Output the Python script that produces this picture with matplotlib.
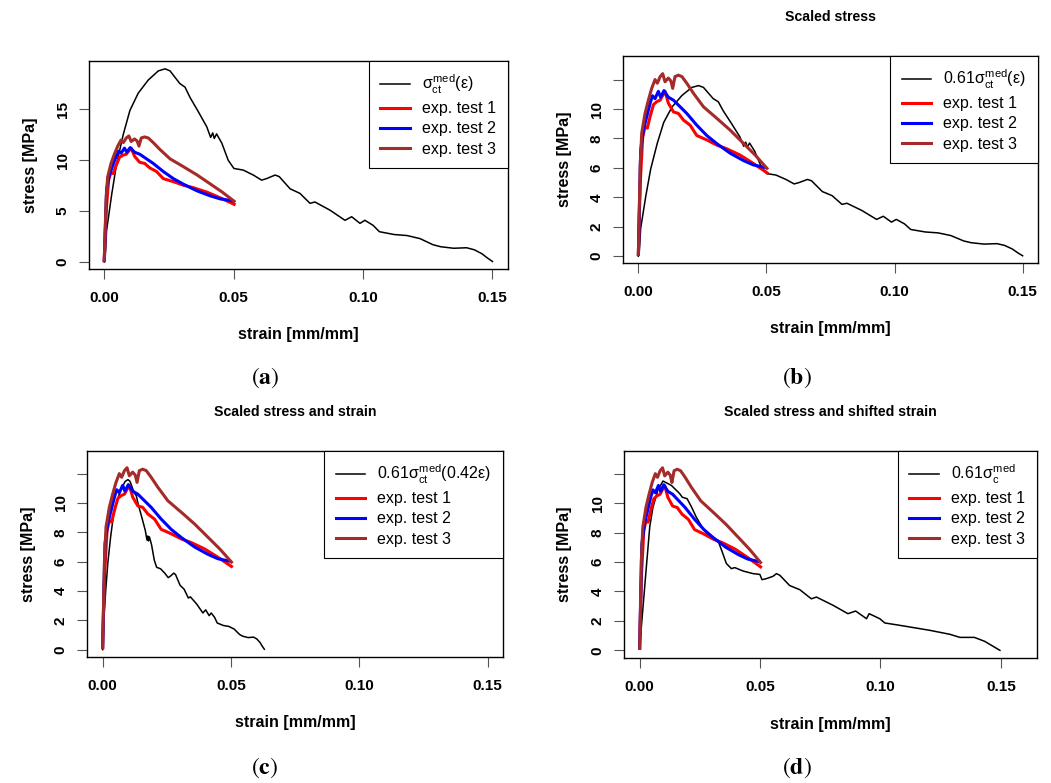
import matplotlib
matplotlib.use('Agg')
import matplotlib.pyplot as plt
import numpy as np
from matplotlib.transforms import offset_copy

plt.rcParams['font.family'] = ['Liberation Sans', 'DejaVu Sans']
plt.rcParams['mathtext.fontset'] = 'custom'
plt.rcParams['mathtext.rm'] = 'Liberation Sans'
plt.rcParams['mathtext.it'] = 'Liberation Sans'
plt.rcParams['mathtext.bf'] = 'Liberation Sans:bold'

# median tensile curve sigma_ct^med(eps)
strain_med = [0.0, 0.0003, 0.0009, 0.0029, 0.0048, 0.0074, 0.0099, 0.0131, 0.0170, 0.0209,
              0.0235, 0.0254, 0.0292, 0.0312, 0.0331, 0.0363, 0.0396, 0.0411, 0.0419, 0.0425,
              0.0434, 0.0454, 0.0479, 0.0501, 0.0537, 0.0576, 0.0608, 0.0627, 0.0660, 0.0676,
              0.0718, 0.0756, 0.0795, 0.0814, 0.0872, 0.0930, 0.0956, 0.0988, 0.1007, 0.1039,
              0.1063, 0.1120, 0.1170, 0.1220, 0.1270, 0.1300, 0.1350, 0.1400, 0.1430, 0.1460,
              0.1480, 0.1500]
stress_med = [0.0, 0.2, 3.1, 6.7, 9.7, 12.6, 14.9, 16.6, 17.9, 18.8,
              19.0, 18.8, 17.55, 17.2, 16.2, 14.8, 13.3, 12.25, 12.7, 12.15,
              12.6, 11.7, 10.0, 9.2, 9.04, 8.55, 8.05, 8.2, 8.55, 8.4,
              7.2, 6.75, 5.77, 5.9, 5.1, 4.1, 4.45, 3.8, 4.1, 3.6,
              2.98, 2.7, 2.6, 2.3, 1.7, 1.5, 1.35, 1.4, 1.2, 0.8,
              0.4, 0.05]

# experimental tests
strain_t1 = [0.0, 0.0007, 0.0017, 0.0026, 0.0035, 0.0046, 0.0059, 0.0072, 0.0085, 0.0091,
             0.0104, 0.0117, 0.0137, 0.0156, 0.0176, 0.0202, 0.0228, 0.0267, 0.0306, 0.0345,
             0.0397, 0.0449, 0.0502]
stress_t1 = [0.14, 4.9, 8.1, 8.8, 8.7, 9.5, 10.3, 10.5, 10.6, 10.8,
             11.2, 10.4, 9.8, 9.7, 9.25, 8.9, 8.2, 7.9, 7.55, 7.3,
             6.87, 6.3, 5.67]

strain_t2 = [0.0, 0.0009, 0.0020, 0.0033, 0.0046, 0.0055, 0.0065, 0.0078, 0.0087, 0.0100,
             0.0117, 0.0137, 0.0163, 0.0189, 0.0228, 0.0267, 0.0306, 0.0358, 0.0410, 0.0449,
             0.0495]
stress_t2 = [0.14, 7.2, 8.6, 9.5, 10.4, 10.9, 10.7, 11.2, 10.8, 11.25,
             10.8, 10.6, 10.15, 9.7, 8.9, 8.2, 7.65, 7.0, 6.5, 6.2,
             6.03]

strain_t3 = [0.0, 0.0007, 0.0013, 0.0026, 0.0039, 0.0052, 0.0065, 0.0074, 0.0085, 0.0095,
             0.0104, 0.0117, 0.0127, 0.0134, 0.0143, 0.0156, 0.0170, 0.0189, 0.0215, 0.0254,
             0.0306, 0.0358, 0.0410, 0.0456, 0.0502]
stress_t3 = [0.14, 6.1, 8.35, 9.7, 10.6, 11.4, 12.0, 11.75, 12.2, 12.4,
             11.85, 12.1, 11.9, 11.4, 12.2, 12.3, 12.2, 11.75, 11.07, 10.15,
             9.37, 8.57, 7.67, 6.87, 5.97]

# scaled stress with shifted strain (panel d)
strain_shift = [0.0, 0.0028, 0.0042, 0.0055, 0.0076, 0.0097, 0.0132, 0.0166, 0.0177, 0.0197,
                0.0215, 0.0235, 0.0263, 0.0291, 0.0312, 0.0325, 0.0343, 0.0360, 0.0381, 0.0395,
                0.0429, 0.0471, 0.0499, 0.0508, 0.0526, 0.0554, 0.0568, 0.0582, 0.0623, 0.0665,
                0.0713, 0.0734, 0.0803, 0.0865, 0.0897, 0.0942, 0.0953, 0.0997, 0.1018, 0.1080,
                0.1205, 0.1288, 0.1330, 0.1390, 0.1433, 0.1496]
stress_shift = [0.2, 5.7, 8.4, 9.7, 10.9, 11.5, 11.2, 10.65, 10.4, 10.3,
                9.75, 9.05, 8.27, 7.7, 7.6, 7.47, 6.68, 5.9, 5.55, 5.62,
                5.39, 5.21, 5.16, 4.8, 4.87, 5.03, 5.21, 5.1, 4.4, 4.12,
                3.5, 3.62, 3.06, 2.49, 2.67, 2.15, 2.49, 2.15, 1.86, 1.7,
                1.36, 1.09, 0.88, 0.88, 0.61, 0.0]

stress_factor = 0.61
strain_factor = 0.42

xtick_vals = [0.0, 0.05, 0.10, 0.15]
xtick_labels = ['0.00', '0.05', '0.10', '0.15']

W, H = 1051, 783
fig = plt.figure(figsize=(W / 100, H / 100), dpi=100)


def draw_panel(box, xlim, ylim, yticks, ylabels, bx, by, label, title, caption, cap_xy):
    l, t, r, b = box
    ax = fig.add_axes([l / W, 1 - b / H, (r - l) / W, (b - t) / H])
    ax.plot(bx, by, color='black', lw=1.1, label=label)
    ax.plot(strain_t1, stress_t1, color='red', lw=2.2, label='exp. test 1')
    ax.plot(strain_t2, stress_t2, color='blue', lw=2.2, label='exp. test 2')
    ax.plot(strain_t3, stress_t3, color='#A52A2A', lw=2.2, label='exp. test 3')
    ax.set_xlim(xlim)
    ax.set_ylim(ylim)
    ax.set_xticks(xtick_vals)
    ax.set_xticklabels(xtick_labels, fontweight='bold', fontsize=11)
    ax.set_yticks(yticks)
    ax.set_yticklabels(ylabels, fontweight='bold', fontsize=11, rotation=90, va='center')
    ax.tick_params(direction='out', length=7, width=0.8, color='#555555')
    ax.tick_params(axis='x', pad=9)
    ax.tick_params(axis='y', pad=7)
    for s in ax.spines.values():
        s.set_linewidth(1.0)
    ax.set_xlabel('strain [mm/mm]', fontweight='bold', fontsize=11.5)
    ax.set_ylabel('stress [MPa]', fontweight='bold', fontsize=11.5)
    ax.xaxis.set_label_coords(0.5, 0, transform=offset_copy(ax.transAxes, fig=fig, y=-66, units='dots'))
    ax.xaxis.label.set_va('center')
    ax.yaxis.set_label_coords(0, 0.5, transform=offset_copy(ax.transAxes, fig=fig, x=-59, units='dots'))
    ax.yaxis.label.set_va('center')
    if title:
        ax.text(0.5, 1, title, transform=offset_copy(ax.transAxes, fig=fig, y=39, units='dots'),
                ha='center', va='center', fontweight='bold', fontsize=10.2)
    leg = ax.legend(loc='upper right', borderaxespad=0, fancybox=False, edgecolor='black',
                    framealpha=1, fontsize=11.5, handlelength=1.85, handletextpad=0.75,
                    labelspacing=0.32, borderpad=0.75)
    leg.get_frame().set_linewidth(0.8)
    fig.text(cap_xy[0] / W, 1 - cap_xy[1] / H, r'$(\mathbf{' + caption + '})$', math_fontfamily='stix',
             fontsize=17, ha='center', va='center')
    return ax


ticks_a = [0, 5, 10, 15]
ticks_b = [0, 2, 4, 6, 8, 10, 12]
labels_b = ['0', '2', '4', '6', '8', '10', '']

sm = np.array(strain_med)
st = np.array(stress_med)

draw_panel((89, 61, 508, 269), (-0.0059, 0.156), (-0.69, 19.77), ticks_a, [str(v) for v in ticks_a],
           sm, st, r'$\sigma_{\mathrm{ct}}^{\mathrm{med}}(\varepsilon)$', None, 'a', (265, 378))
draw_panel((623, 56, 1038, 263), (-0.006, 0.156), (-0.46, 13.6), ticks_b, labels_b,
           sm, stress_factor * st, r'$0.61\sigma_{\mathrm{ct}}^{\mathrm{med}}(\varepsilon)$',
           'Scaled stress', 'b', (797, 378))
draw_panel((87, 451, 503, 657), (-0.0061, 0.156), (-0.5, 13.54), ticks_b, labels_b,
           strain_factor * sm, stress_factor * st,
           r'$0.61\sigma_{\mathrm{ct}}^{\mathrm{med}}(0.42\varepsilon)$',
           'Scaled stress and strain', 'c', (265, 768))
draw_panel((624, 451, 1037, 658), (-0.0065, 0.165), (-0.52, 13.54), ticks_b, labels_b,
           strain_shift, stress_shift, r'$0.61\sigma_{\mathrm{c}}^{\mathrm{med}}$',
           'Scaled stress and shifted strain', 'd', (797, 768))

fig.savefig('out.png', dpi=100)
